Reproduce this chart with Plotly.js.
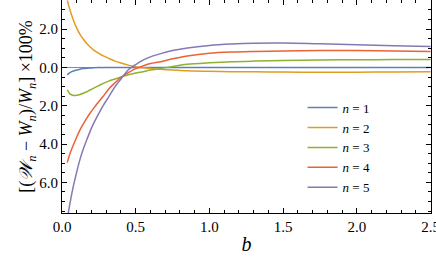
<!DOCTYPE html>
<html>
<head>
<meta charset="utf-8">
<script src="https://cdn.plot.ly/plotly-3.0.1.min.js"></script>
<style>html,body{margin:0;padding:0;background:#fff;}#chart{width:436px;height:262px;}</style>
</head>
<body>
<div id="chart"></div>
<script>
const b = [0.036,0.054,0.077,0.1,0.122,0.145,0.168,0.19,0.213,0.25,0.28,0.32,0.36,0.4,0.45,0.5,0.55,0.6,0.67,0.75,0.85,1.0,1.15,1.3,1.5,1.75,2.0,2.25,2.5];
const n1 = [-0.39,-0.27,-0.19,-0.13,-0.09,-0.06,-0.04,-0.03,-0.02,-0.01,-0.01,0,0,0,0,0,0,0,0,0,0,0,0,0,0,0,0,0,0];
const n2 = [3.5,3.0,2.48,2.05,1.72,1.47,1.25,1.08,0.92,0.73,0.60,0.46,0.33,0.23,0.12,0.04,-0.02,-0.06,-0.1,-0.14,-0.18,-0.2,-0.22,-0.23,-0.24,-0.25,-0.25,-0.24,-0.23];
const n3 = [-1.17,-1.38,-1.46,-1.45,-1.41,-1.35,-1.27,-1.18,-1.09,-0.95,-0.83,-0.7,-0.6,-0.5,-0.38,-0.29,-0.22,-0.14,-0.06,0.05,0.16,0.24,0.3,0.33,0.36,0.39,0.4,0.41,0.41];
const n4 = [-4.97,-4.5,-4.05,-3.63,-3.26,-2.95,-2.65,-2.39,-2.15,-1.78,-1.5,-1.1,-0.8,-0.52,-0.27,-0.06,0.08,0.2,0.3,0.45,0.6,0.74,0.8,0.83,0.86,0.88,0.88,0.86,0.83];
const n5 = [-7.9,-7.1,-6.2,-5.45,-4.8,-4.25,-3.78,-3.35,-2.95,-2.4,-1.98,-1.5,-1.0,-0.6,-0.12,0.15,0.38,0.55,0.72,0.88,1.02,1.15,1.22,1.26,1.27,1.23,1.18,1.13,1.09];
const seriesNames = ['<i>n</i> = 1','<i>n</i> = 2','<i>n</i> = 3','<i>n</i> = 4','<i>n</i> = 5'];
const colors = ['#5E81B5','#E19C24','#8FB032','#EB6235','#8778B3'];
const yTickVals = [2,0,-2,-4,-6];
const yTickText = ['2.0','0.0','2.0','4.0','6.0'];
const xTickVals = [0,0.5,1,1.5,2,2.5];
const xTickText = ['0.0','0.5','1.0','1.5','2.0','2.5'];

const ys = [n1,n2,n3,n4,n5];
const traces = ys.map((y,i)=>({
  x: b, y: y, type:'scatter', mode:'lines', name: seriesNames[i],
  line:{color:colors[i], width:1.5, shape:'spline', smoothing:0.8}
}));

const SERIF = '"Liberation Serif", "Times New Roman", Times, serif';
const layout = {
  width:436, height:262,
  margin:{l:62, r:5, t:0, b:49},
  paper_bgcolor:'#fff', plot_bgcolor:'#fff',
  font: {family:SERIF, color:'#000', size:14},
  showlegend:true,
  legend:{x:0.652, y:0.565, xanchor:'left', yanchor:'top', bgcolor:'rgba(0,0,0,0)',
          font:{family:SERIF, size:13, color:'#000'}, itemwidth:30, tracegroupgap:0},
  xaxis:{range:[0,2.503], tickvals:xTickVals, ticktext:xTickText, ticks:'inside', ticklen:5, tickcolor:'#000',
         ticklabeloverflow:'allow',
         showline:true, linecolor:'#000', linewidth:1, mirror:'ticks', showgrid:false, zeroline:false,
         minor:{dtick:0.1, ticks:'inside', ticklen:3, tickcolor:'#000', showgrid:false},
         title:{text:'<i>b</i>', font:{family:SERIF, size:20, color:'#000'}, standoff:2},
         tickfont:{family:SERIF, size:15, color:'#000'}},
  yaxis:{range:[-7.6,3.52], tickvals:yTickVals, ticktext:yTickText, ticks:'inside', ticklen:5, tickcolor:'#000',
         showline:true, linecolor:'#000', linewidth:1, mirror:'ticks', showgrid:false,
         zeroline:true, zerolinecolor:'#888', zerolinewidth:1,
         minor:{dtick:0.5, ticks:'inside', ticklen:3, tickcolor:'#000', showgrid:false},
         title:{text:'[(<i>𝒲</i><sub><i>n</i></sub> − <i>W</i><sub><i>n</i></sub>)/<i>W</i><sub><i>n</i></sub>] ×100%', font:{family:SERIF, size:18, color:'#000'}, standoff:1},
         tickfont:{family:SERIF, size:15, color:'#000'}}
};
Plotly.newPlot('chart', traces, layout, {displayModeBar:false, staticPlot:true});
</script>
</body>
</html>
